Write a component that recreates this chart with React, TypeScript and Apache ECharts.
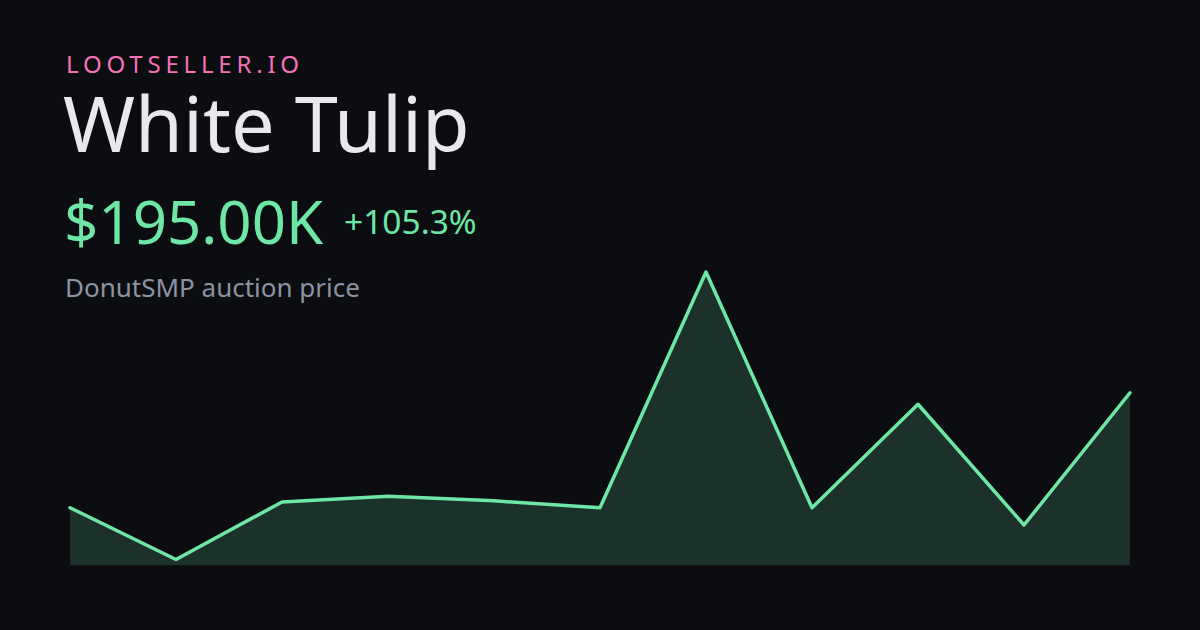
import React, { useEffect, useRef } from "react";
import * as echarts from "echarts";

const categories = ["1", "2", "3", "4", "5", "6", "7", "8", "9", "10", "11"];
const prices = [95, 50, 100, 105, 101, 95, 300, 95, 185, 80, 195];
const brand = "LOOTSELLER.IO";
const itemName = "White Tulip";
const priceLabel = "$195.00K";
const changeLabel = "+105.3%";
const subtitle = "DonutSMP auction price";

const FONT = '"Noto Sans", "Open Sans", sans-serif';
const BG = "#0b0d10";
const GREEN = "#6ee7a6";
const PINK = "#f472b6";

export default function App() {
  const ref = useRef<HTMLDivElement>(null);
  useEffect(() => {
    document.body.style.margin = "0";
    document.body.style.background = BG;
    const st = document.createElement("style");
    st.textContent = `text[fill="${PINK}"], text[fill="rgb(244,114,182)"], text[fill="rgb(244, 114, 182)"] { letter-spacing: 4.8px; }`;
    document.head.appendChild(st);
    const chart = echarts.init(ref.current!, null, { renderer: "svg" });
    const txt = (text: string, x: number, baseline: number, size: number, fill: string) => ({
      type: "text",
      x,
      y: baseline - 0.388 * size,
      style: { text, font: `400 ${size}px ${FONT}`, fill, verticalAlign: "middle", align: "left" },
    });
    chart.setOption({
      animation: false,
      backgroundColor: BG,
      grid: { left: 70, right: 70, top: 237.5, bottom: 64.75 },
      xAxis: { type: "category", data: categories, boundaryGap: false, show: false },
      yAxis: { type: "value", min: 45, max: 330, show: false, splitLine: { show: false } },
      series: [
        {
          type: "line",
          data: prices,
          symbol: "none",
          lineStyle: { color: GREEN, width: 3.5, cap: "round", join: "round" },
          areaStyle: { color: "rgba(110,231,166,0.17)", opacity: 1, origin: "start" },
        },
      ],
      graphic: [
        txt(brand, 66, 73, 24, PINK),
        txt(itemName, 63, 152, 77.5, "#e8e9ee"),
        txt(priceLabel, 64, 244, 60, GREEN),
        txt(changeLabel, 344, 234, 33.5, GREEN),
        txt(subtitle, 65, 297, 26, "#8e93a3"),
      ],
    });
    return () => {
      chart.dispose();
      st.remove();
    };
  }, []);
  return <div ref={ref} style={{ width: 1200, height: 630, position: "absolute", left: 0, top: 0 }} />;
}
